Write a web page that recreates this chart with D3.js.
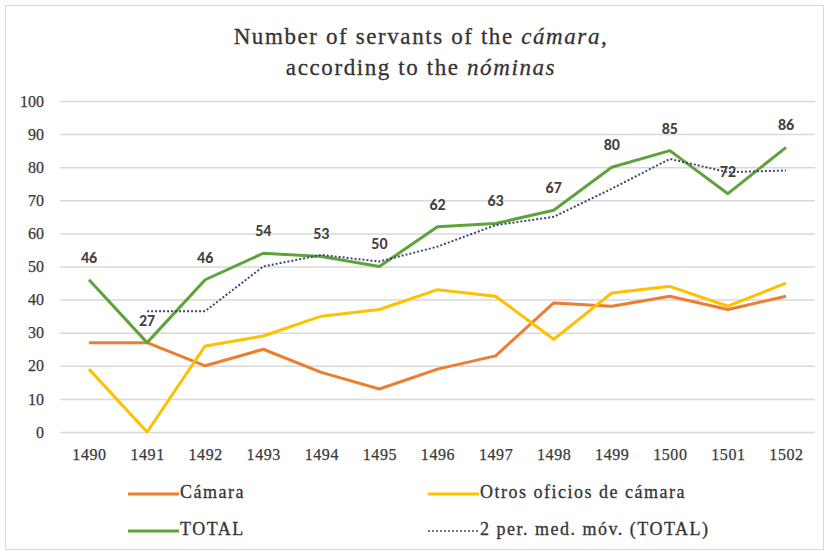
<!DOCTYPE html>
<html>
<head>
<meta charset="utf-8">
<script src="https://cdn.jsdelivr.net/npm/d3@7"></script>
<style>
  body { margin: 0; background: #fff; }
  .tick text { font-family: "Liberation Serif", serif; fill: #3a3a3a; stroke: #3a3a3a; stroke-width: 0.25px; }
</style>
</head>
<body>
<div class="svg-wrapper"></div>
<script>
const years = ["1490","1491","1492","1493","1494","1495","1496","1497","1498","1499","1500","1501","1502"];
const camara = [27, 27, 20, 25, 18, 13, 19, 23, 39, 38, 41, 37, 41];
const otros = [19, 0, 26, 29, 35, 37, 43, 41, 28, 42, 44, 38, 45];
const total = [46, 27, 46, 54, 53, 50, 62, 63, 67, 80, 85, 72, 86];
// 2-period moving average, starts at 1491
const movAvg = [null, 36.5, 36.5, 50, 53.5, 51.5, 56, 62.5, 65, 73.5, 82.5, 78.5, 79];
const yTicks = [0, 10, 20, 30, 40, 50, 60, 70, 80, 90, 100];

const width = 829, height = 555;

const svg = d3.select(".svg-wrapper")
  .append("svg")
  .attr("width", width)
  .attr("height", height);

// chart frame
svg.append("rect")
  .attr("x", 5.5).attr("y", 5.5)
  .attr("width", width - 11).attr("height", height - 11)
  .attr("fill", "#fff")
  .attr("stroke", "#d9d9d9");

const title = svg.append("text")
  .attr("text-anchor", "middle")
  .style("font-family", "'Liberation Serif', serif")
  .style("font-size", "23px")
  .style("letter-spacing", "1.6px")
  .attr("fill", "#333")
  .attr("stroke", "#333")
  .attr("stroke-width", 0.3);
title.append("tspan").attr("x", 421).attr("y", 44).text("Number of servants of the ");
title.append("tspan").style("font-style", "italic").text("cámara");
title.append("tspan").text(",");
title.append("tspan").attr("x", 421).attr("y", 75).text("according to the ");
title.append("tspan").style("font-style", "italic").text("nóminas");

const xScale = d3.scalePoint()
  .domain(years)
  .range([89, 786]);

const yScale = d3.scaleLinear()
  .domain([0, 100])
  .range([432, 101]);

const yAxis = d3.axisLeft(yScale)
  .tickValues(yTicks)
  .tickSize(-(815 - 60))
  .tickPadding(16);

const yAxisG = svg.append("g")
  .attr("transform", "translate(60,0)")
  .call(yAxis);
yAxisG.selectAll(".domain").remove();
yAxisG.selectAll(".tick line").attr("stroke", "#d9d9d9").attr("stroke-width", 1.5);
yAxisG.selectAll(".tick text").style("font-size", "16px");

const xAxis = d3.axisBottom(xScale).tickSize(0).tickPadding(17);
const xAxisG = svg.append("g")
  .attr("transform", "translate(0,432)")
  .call(xAxis);
xAxisG.selectAll(".domain").remove();
xAxisG.selectAll(".tick text").style("font-size", "16px").style("letter-spacing", "0.6px");

const line = d3.line()
  .defined(d => d != null)
  .x((d, i) => xScale(years[i]))
  .y(d => yScale(d));

const series = [
  {values: camara, color: "#ed7d31", dash: null, w: 3},
  {values: otros, color: "#ffc000", dash: null, w: 3},
  {values: total, color: "#5ea33a", dash: null, w: 3},
  {values: movAvg, color: "#3b4673", dash: "2,2", w: 2}
];

series.forEach(s => {
  svg.append("path")
    .attr("d", line(s.values))
    .attr("fill", "none")
    .attr("stroke", s.color)
    .attr("stroke-width", s.w)
    .attr("stroke-dasharray", s.dash)
    .attr("stroke-linejoin", "round");
});

svg.append("g")
  .selectAll("text")
  .data(total)
  .enter()
  .append("text")
    .attr("x", (d, i) => xScale(years[i]))
    .attr("y", d => yScale(d) - 21)
    .attr("text-anchor", "middle")
    .attr("dominant-baseline", "middle")
    .style("font-family", "Carlito, 'Open Sans', sans-serif")
    .style("font-size", "16px")
    .style("font-weight", "bold")
    .attr("fill", "#404040")
    .text(d => d);

// legend
const legendItems = [
  {name: "Cámara", color: "#ed7d31", dash: null, w: 3, x: 128, y: 494},
  {name: "Otros oficios de cámara", color: "#ffc000", dash: null, w: 3, x: 428, y: 494},
  {name: "TOTAL", color: "#5ea33a", dash: null, w: 3, x: 128, y: 531},
  {name: "2 per. med. móv. (TOTAL)", color: "#3b4673", dash: "2,2", w: 1.5, x: 428, y: 531}
];

legendItems.forEach(l => {
  svg.append("line")
    .attr("x1", l.x).attr("x2", l.x + 51)
    .attr("y1", l.y).attr("y2", l.y)
    .attr("stroke", l.color)
    .attr("stroke-width", l.w)
    .attr("stroke-dasharray", l.dash);
  svg.append("text")
    .attr("x", l.x + 52)
    .attr("y", l.y)
    .attr("dominant-baseline", "middle")
    .style("font-family", "'Liberation Serif', serif")
    .style("font-size", "18px")
    .style("letter-spacing", "1.5px")
    .attr("fill", "#353535")
    .attr("stroke", "#353535")
    .attr("stroke-width", 0.3)
    .text(l.name);
});
</script>
</body>
</html>
